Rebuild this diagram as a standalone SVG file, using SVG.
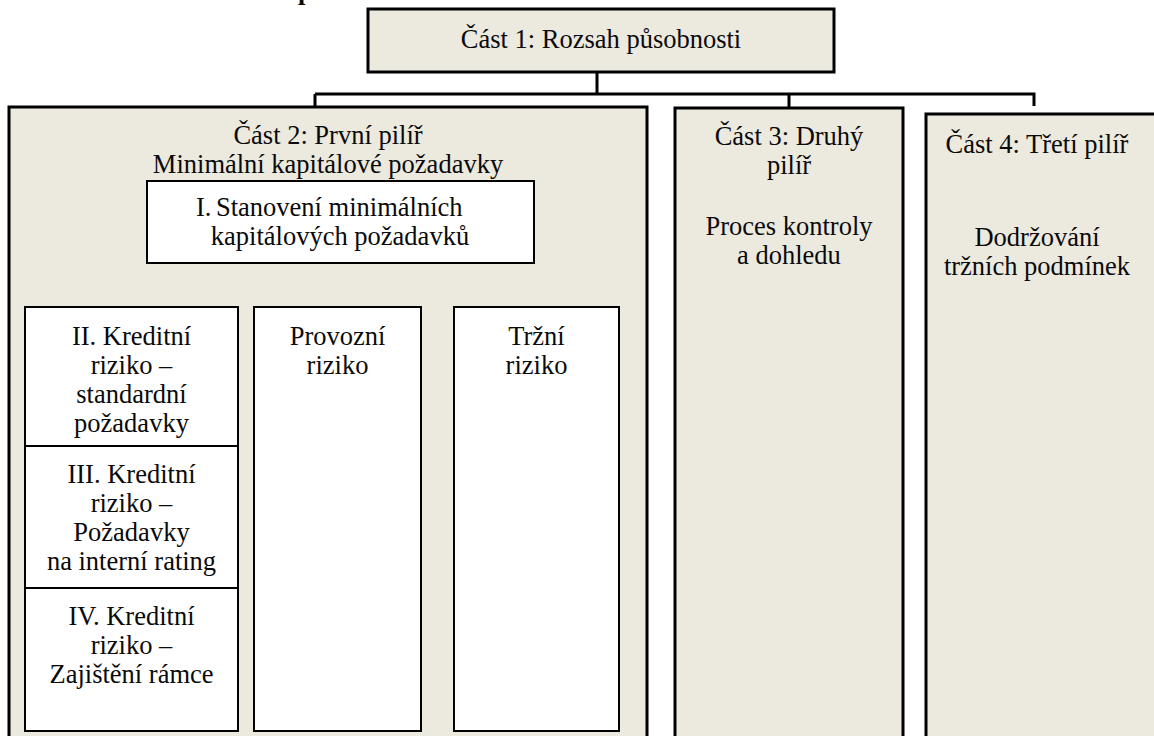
<svg xmlns="http://www.w3.org/2000/svg" width="1154" height="736" viewBox="0 0 1154 736" font-family="'Liberation Serif', Tinos, 'Times New Roman', 'DejaVu Serif', serif">
  <style>
    .part { fill: #ECE9DF; stroke: #000; stroke-width: 3; }
    .box { fill: #FFFFFF; stroke: #000; stroke-width: 2; }
    .wire { fill: none; stroke: #000; stroke-width: 3; }
    .wire-thin { fill: none; stroke: #000; stroke-width: 2; }
    text { font-family: 'Liberation Serif', Tinos, 'Times New Roman', 'DejaVu Serif', serif; font-size: 26.5px; fill: #0a0a0a; text-anchor: middle; }
    .start { text-anchor: start; }
    .head { font-weight: bold; text-anchor: start; }
  </style>

  <rect width="1154" height="736" fill="#FFFFFF"/>

  <!-- heading line cut at the top edge -->
  <text class="head" x="298" y="-1">p</text>

  <!-- connectors -->
  <g id="connectors">
    <path class="wire" d="M597 72 V94 M315 94 H1034 M315 94 V107 M789 94 V108 M1034 92.5 V106"/>
    <path class="wire-thin" d="M331 263 V283 M129 283 H534 M129 283 V307 M331 283 V307 M534 283 V307"/>
  </g>

  <!-- Part 1 -->
  <g id="part1">
    <rect class="part" x="368" y="9" width="466" height="63"/>
    <text x="601" y="48">Část 1: Rozsah působnosti</text>
  </g>

  <!-- Part 2 -->
  <g id="part2">
    <rect class="part" x="9" y="107" width="638" height="640"/>
    <text x="328" y="144">Část 2: První pilíř</text>
    <text x="328" y="173">Minimální kapitálové požadavky</text>
  </g>

  <g id="min-capital">
    <rect class="box" x="147" y="181" width="387" height="82"/>
    <text class="start" x="196" y="216">I.<tspan x="216">Stanovení minimálních</tspan></text>
    <text x="340" y="245">kapitálových požadavků</text>
  </g>

  <g id="credit-standard">
    <rect class="box" x="25" y="307" width="213" height="139"/>
    <text x="131.5" y="345">II. Kreditní</text>
    <text x="131.5" y="374">riziko –</text>
    <text x="131.5" y="403">standardní</text>
    <text x="131.5" y="432">požadavky</text>
  </g>

  <g id="credit-irb">
    <rect class="box" x="25" y="446" width="213" height="142"/>
    <text x="131.5" y="483">III. Kreditní</text>
    <text x="131.5" y="512">riziko –</text>
    <text x="131.5" y="541">Požadavky</text>
    <text x="131.5" y="570">na interní rating</text>
  </g>

  <g id="credit-mitigation">
    <rect class="box" x="25" y="588" width="213" height="143"/>
    <text x="131.5" y="625">IV. Kreditní</text>
    <text x="131.5" y="654">riziko –</text>
    <text x="131.5" y="683">Zajištění rámce</text>
  </g>

  <g id="operational">
    <rect class="box" x="254" y="307" width="167" height="424"/>
    <text x="337.5" y="345">Provozní</text>
    <text x="337.5" y="374">riziko</text>
  </g>

  <g id="market">
    <rect class="box" x="454" y="307" width="165" height="424"/>
    <text x="536.5" y="345">Tržní</text>
    <text x="536.5" y="374">riziko</text>
  </g>

  <!-- Part 3 -->
  <g id="part3">
    <rect class="part" x="675" y="108" width="228" height="640"/>
    <text x="789" y="145">Část 3: Druhý</text>
    <text x="789" y="174">pilíř</text>
    <text x="789" y="235">Proces kontroly</text>
    <text x="789" y="264">a dohledu</text>
  </g>

  <!-- Part 4 -->
  <g id="part4">
    <rect class="part" x="926" y="114" width="240" height="640"/>
    <text x="1037" y="153">Část 4: Třetí pilíř</text>
    <text x="1037" y="246">Dodržování</text>
    <text x="1037" y="275">tržních podmínek</text>
  </g>
</svg>
